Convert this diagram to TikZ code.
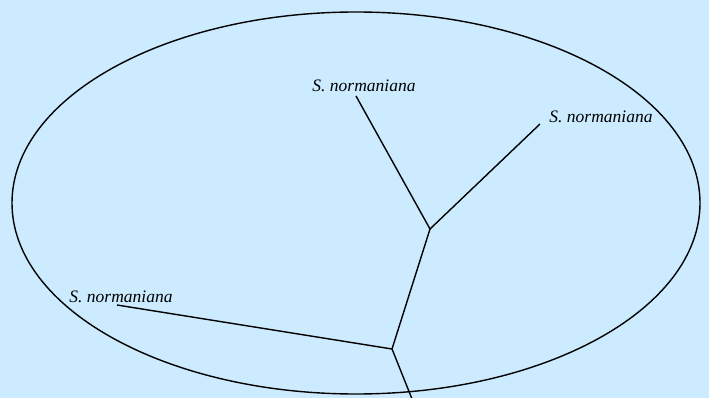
\documentclass[tikz,border=0pt]{standalone}
\usepackage{fontspec}
\setmainfont{Liberation Serif}
\definecolor{bgblue}{HTML}{CCEBFF}
\begin{document}
\begin{tikzpicture}[x=1pt,y=-1pt,
  branch/.style={line width=1.4pt,black},
  taxon/.style={font=\fontsize{17.5}{20}\selectfont\itshape,inner sep=0pt}]
\fill[bgblue] (0,0) rectangle (709,398);
\useasboundingbox (0,0) rectangle (709,398);
\draw[line width=1.4pt] (356,203) ellipse [x radius=344, y radius=191];
\node[taxon] (t1) at (364,86) {S. normaniana};
\node[taxon] (t2) at (601,117) {S. normaniana};
\node[taxon] (t3) at (121,297) {S. normaniana};
\coordinate (a) at (356,96);
\coordinate (b) at (540,124);
\coordinate (c) at (117,305);
\coordinate (n1) at (430,229);
\coordinate (n2) at (392,349);
\coordinate (r) at (412,399);
\draw[branch] (a) -- (n1) -- (b);
\draw[branch] (n1) -- (n2) -- (c);
\draw[branch] (n2) -- (r);
\end{tikzpicture}
\end{document}
